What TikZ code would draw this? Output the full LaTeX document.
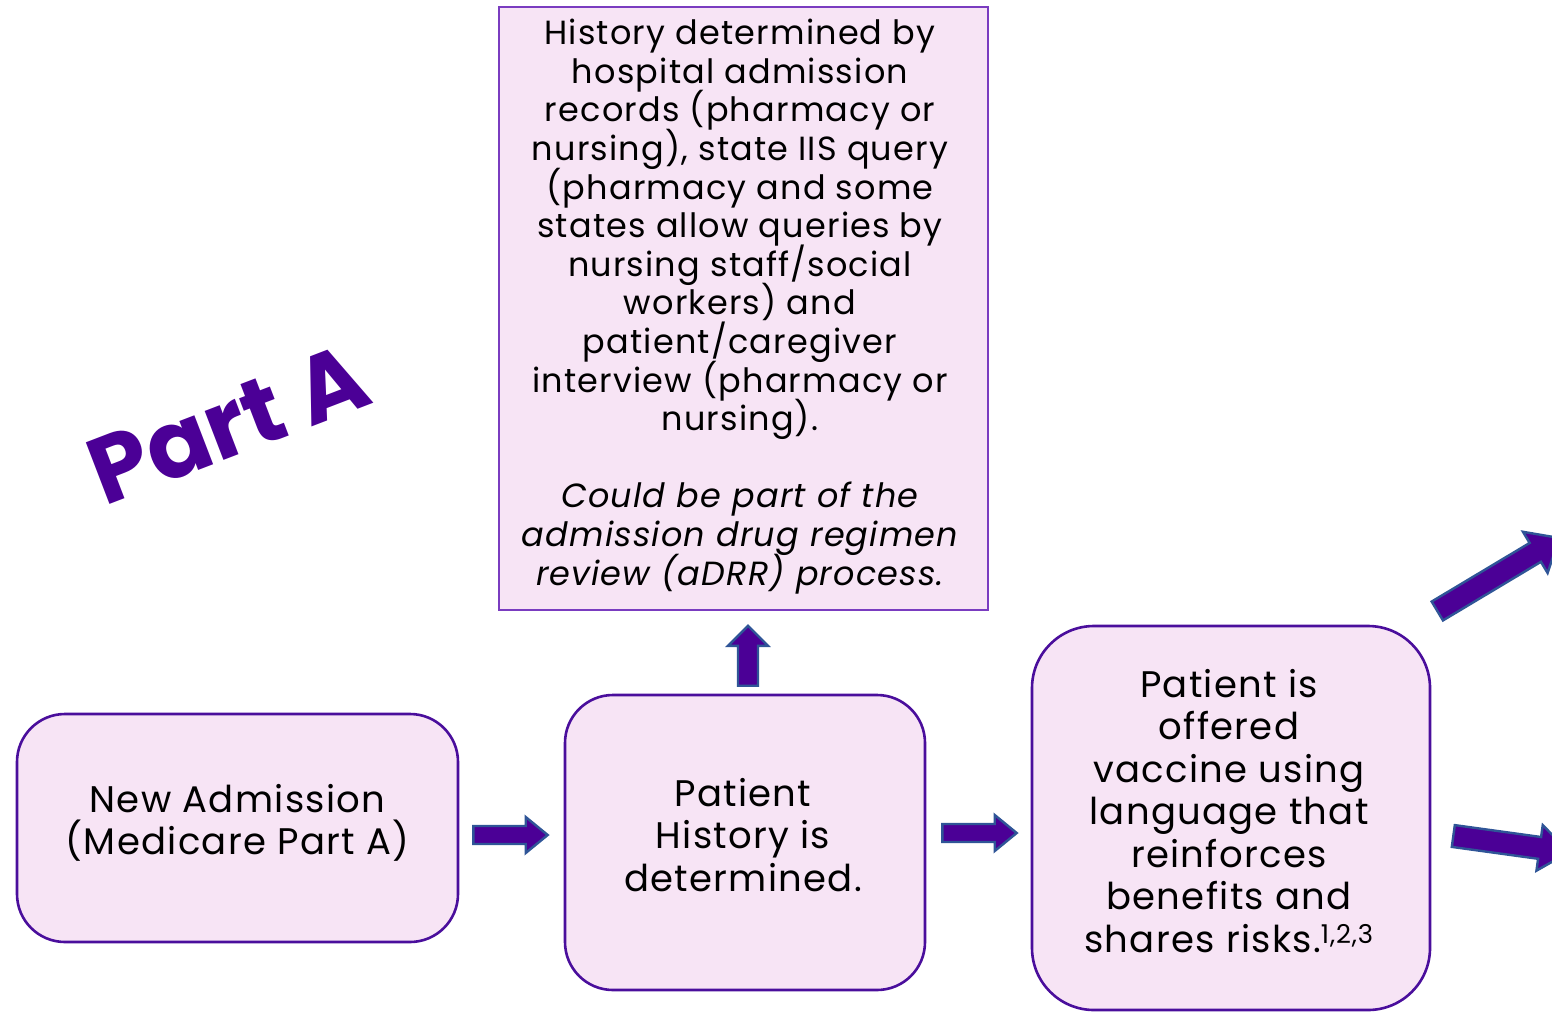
\documentclass[tikz,border=0pt]{standalone}
\usepackage{fontspec}
\setmainfont{Poppins}
\newfontfamily\bodyfont{Poppins}[LetterSpace=3.5]
\usetikzlibrary{calc}

\definecolor{boxfill}{HTML}{F7E4F5}
\definecolor{boxline}{HTML}{4A0E9C}
\definecolor{noteline}{HTML}{7A3CC0}
\definecolor{arrfill}{HTML}{4B0096}
\definecolor{arrline}{HTML}{2F5597}
\definecolor{titlecol}{HTML}{4B0096}

% keep baselines evenly spaced even when glyphs are tall
\newcommand\tightlines{\lineskiplimit=-50pt\relax\lineskip=0pt\relax}

% block arrow: #1 tail, #2 tip, #3 half shaft width, #4 half head width, #5 head length
\newcommand\blockarrow[5]{%
  \coordinate (ba-h) at ($(#2)!#5!(#1)$);
  \path[blockarrow] ($(#1)!#3!90:(#2)$) -- ($(ba-h)!#3!90:(#2)$)
    -- ($(ba-h)!#4!90:(#2)$) -- (#2) -- ($(ba-h)!#4!-90:(#2)$)
    -- ($(ba-h)!#3!-90:(#2)$) -- ($(#1)!#3!-90:(#2)$) -- cycle;
}

\begin{document}
\begin{tikzpicture}[x=1pt,y=-1pt,
  stepbox/.style={draw=boxline, fill=boxfill, line width=2.6pt, rounded corners=48pt, inner sep=0pt},
  notebox/.style={draw=noteline, fill=boxfill, line width=1.6pt, inner sep=0pt},
  boxtext/.style={align=center, font=\bodyfont\fontsize{37}{42.5}\selectfont\tightlines, inner sep=0pt},
  notetext/.style={align=center, font=\bodyfont\fontsize{33.5}{38.6}\selectfont\tightlines, inner sep=0pt},
  blockarrow/.style={fill=arrfill, draw=arrline, line width=2.4pt, line join=miter},
  titletext/.style={font=\fontsize{94}{100}\bfseries\selectfont, inner sep=0pt, rotate=21}
]
\useasboundingbox (0,0) rectangle (1552,1012);

% title
\node[titletext, text=titlecol] (title) at (228,424) {Part A};

% process boxes
\node[stepbox, minimum width=441pt, minimum height=228pt] (admit) at (237.5,828) {};
\node[boxtext] (admittext) at (237.5,823) {New Admission\\(Medicare Part A)};

\node[stepbox, minimum width=360pt, minimum height=295pt] (history) at (745,842.5) {};
\node[boxtext] (historytext) at (743,835) {Patient\\History is\\determined.};

\node[stepbox, rounded corners=62pt, minimum width=398pt, minimum height=384pt] (offer) at (1231,818) {};
\node[boxtext] (offertext) at (1229,811) {Patient is\\offered\\vaccine using\\language that\\reinforces\\benefits and\\shares risks.\textsuperscript{1,2,3}};

% note box
\node[notebox, minimum width=489pt, minimum height=603pt] (sources) at (743.5,308.5) {};
\node[notetext] (sourcestext) at (740,306.5) {History determined by\\hospital admission\\records (pharmacy or\\nursing), state IIS query\\(pharmacy and some\\states allow queries by\\nursing staff/social\\workers) and\\patient/caregiver\\interview (pharmacy or\\nursing).\\[38.6pt]\itshape Could be part of the\\\itshape admission drug regimen\\\itshape review (aDRR) process.};

% connector end points
\coordinate (a1s) at ($(admit.east)+(14,7)$);
\coordinate (a1e) at ($(history.west)+(-16,-7.5)$);
\coordinate (a2s) at ($(history.north)+(3,-8)$);
\coordinate (a2e) at ($(sources.south)+(4.5,15)$);
\coordinate (a3s) at ($(history.east)+(16,-9.5)$);
\coordinate (a3e) at ($(offer.west)+(-14,15)$);
\coordinate (a4s) at ($(offer.east)+(6,-207)$);
\coordinate (a4e) at ($(offer.east)+(128,-280)$);
\coordinate (a5s) at ($(offer.east)+(22,18)$);
\coordinate (a5e) at ($(offer.east)+(138,34)$);

\blockarrow{a1s}{a1e}{9pt}{18pt}{22pt}
\blockarrow{a2s}{a2e}{10pt}{20pt}{20pt}
\blockarrow{a3s}{a3e}{9pt}{18pt}{22pt}
\blockarrow{a4s}{a4e}{11pt}{24pt}{28pt}
\blockarrow{a5s}{a5e}{11pt}{23pt}{30pt}
\end{tikzpicture}
\end{document}
